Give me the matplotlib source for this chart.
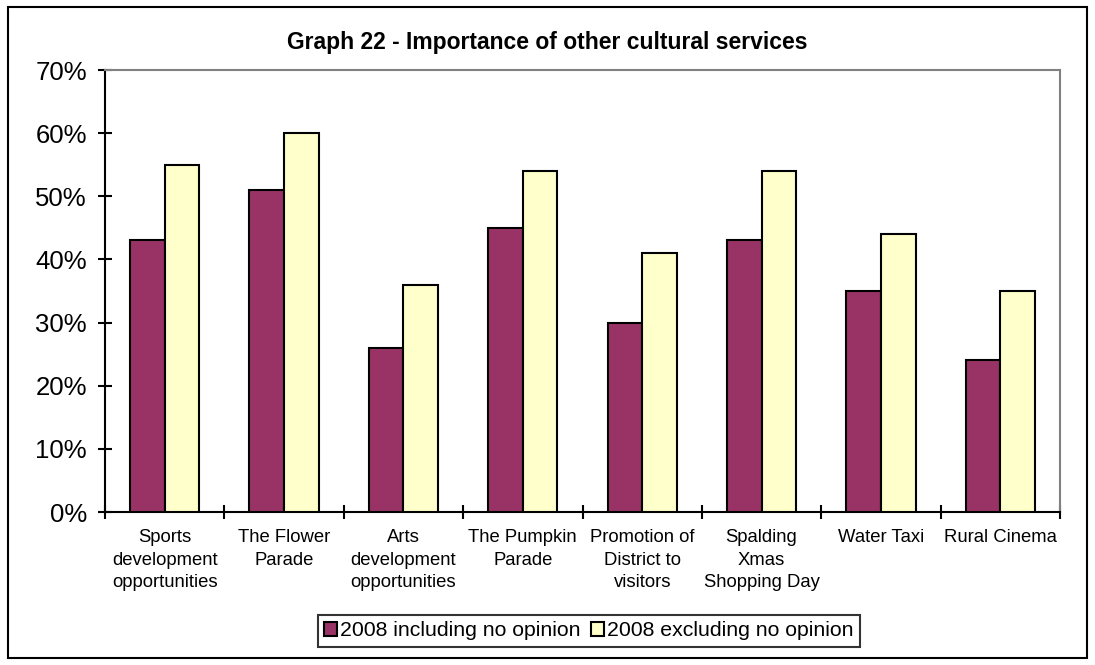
import matplotlib.pyplot as plt
import matplotlib.patches as patches
import numpy as np

plt.rcParams['font.family'] = ['Liberation Sans', 'DejaVu Sans']

categories = ['Sports\ndevelopment\nopportunities', 'The Flower\nParade', 'Arts\ndevelopment\nopportunities',
              'The Pumpkin\nParade', 'Promotion of\nDistrict to\nvisitors', 'Spalding\nXmas\nShopping Day',
              'Water Taxi', 'Rural Cinema']
incl_no_opinion = [43, 51, 26, 45, 30, 43, 35, 24]
excl_no_opinion = [55, 60, 36, 54, 41, 54, 44, 35]
series_names = ['2008 including no opinion', '2008 excluding no opinion']

W, H = 1095, 665
fig = plt.figure(figsize=(W / 100, H / 100), dpi=100)

# outer frame round the whole chart
fig.patches.append(patches.Rectangle((8 / W, 1 - 658 / H), 1079 / W, 651 / H, transform=fig.transFigure,
                                     fill=False, edgecolor='black', linewidth=1.5))

ax = fig.add_axes([105 / W, 1 - 512 / H, 955 / W, 442 / H])
x = np.arange(len(categories))
bw = 0.29
ax.bar(x - bw / 2, np.array(incl_no_opinion) / 100, bw, color='#993366', edgecolor='black', linewidth=1.5,
       label=series_names[0], zorder=3)
ax.bar(x + bw / 2, np.array(excl_no_opinion) / 100, bw, color='#FFFFCC', edgecolor='black', linewidth=1.5,
       label=series_names[1], zorder=3)

ax.set_xlim(-0.5, len(categories) - 0.5)
ax.set_ylim(0, 0.7)
ax.set_yticks(np.arange(0, 0.71, 0.1))
ax.set_yticklabels([f'{int(round(v * 100))}%' for v in np.arange(0, 0.71, 0.1)], fontsize=18.5)
ax.yaxis.set_tick_params(direction='inout', length=10, width=1.5, pad=8)

# category boundaries carry the ticks, labels sit in between
ax.set_xticks(np.arange(-0.5, len(categories) + 0.5, 1))
ax.set_xticklabels([])
ax.xaxis.set_tick_params(direction='inout', length=10, width=1.5)
for i, c in enumerate(categories):
    ax.text(i, -0.027, c, ha='center', va='top', fontsize=13.3, linespacing=1.43)

for s in ['left', 'bottom']:
    ax.spines[s].set_linewidth(1.5)
    ax.spines[s].set_color('black')
for s in ['top', 'right']:
    ax.spines[s].set_linewidth(1.5)
    ax.spines[s].set_color('#808080')

fig.text(0.5, 1 - 42 / H, 'Graph 22 - Importance of other cultural services', ha='center', va='center',
         fontsize=16.5, fontweight='bold')

leg = fig.legend(loc='center', bbox_to_anchor=(589 / W, 1 - 631 / H), ncol=2, fontsize=15.3, frameon=True,
                 fancybox=False, edgecolor='black', handlelength=0.6, handleheight=0.6, handletextpad=0.15,
                 columnspacing=0.5, borderpad=0.3, borderaxespad=0)
leg.get_frame().set_linewidth(1.5)

fig.savefig('out.png', dpi=100)
